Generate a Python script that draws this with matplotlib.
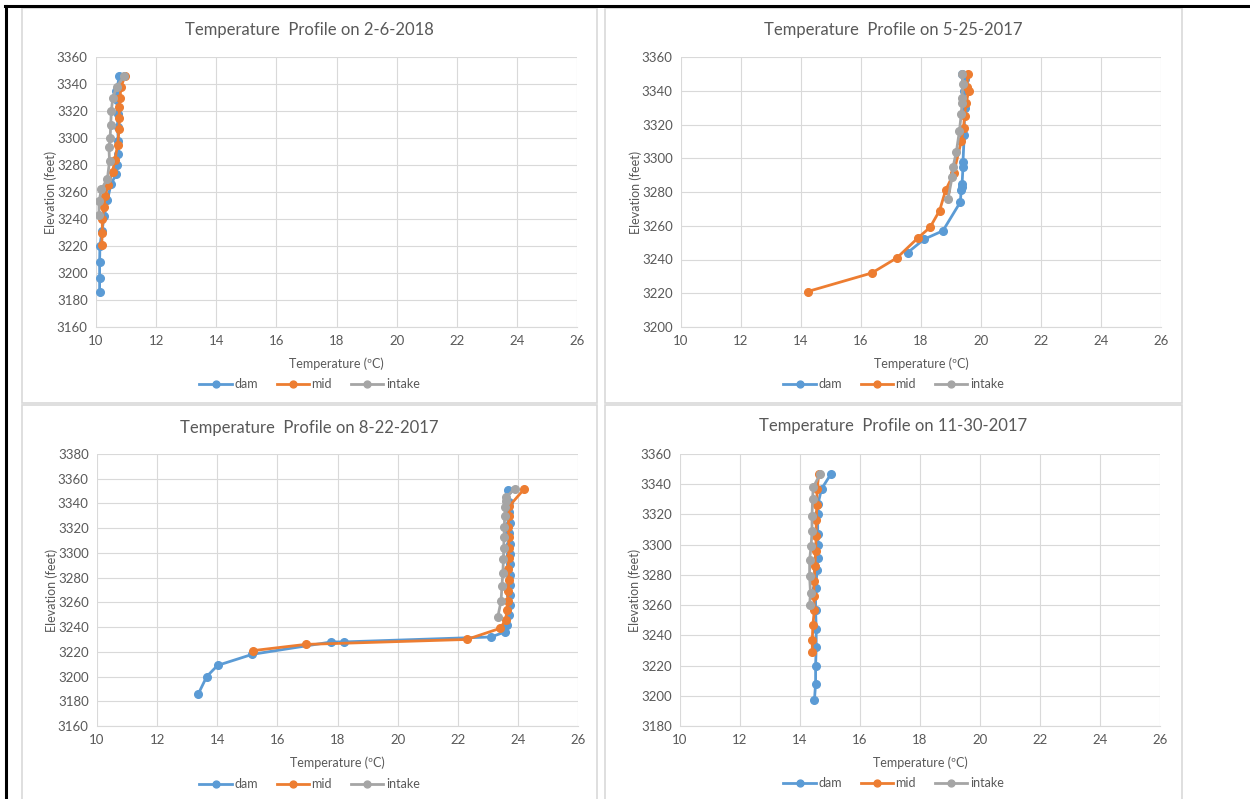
import numpy as np
import matplotlib.pyplot as plt
import matplotlib as mpl
from matplotlib.patches import Rectangle
from matplotlib.lines import Line2D

mpl.rcParams['font.family'] = ['Lato', 'DejaVu Sans']

#======================================== data =============================================
# panel 1: 2-6-2018
p1_dam_t = [10.12, 10.12, 10.12, 10.13, 10.2, 10.27, 10.38, 10.5, 10.67, 10.69, 10.74, 10.74,
            10.72, 10.72, 10.7, 10.68, 10.78]
p1_dam_e = [3186, 3196, 3208, 3220, 3231, 3242, 3254, 3266, 3273, 3280, 3288, 3298,
            3308, 3318, 3328, 3335, 3346]
p1_mid_t = [10.19, 10.21, 10.21, 10.27, 10.3, 10.41, 10.55, 10.63, 10.72, 10.77, 10.77, 10.78,
            10.8, 10.83, 10.97]
p1_mid_e = [3221, 3230, 3240, 3249, 3257, 3265, 3275, 3284, 3295, 3307, 3315, 3323,
            3330, 3338, 3346]
p1_int_t = [10.1, 10.1, 10.18, 10.38, 10.45, 10.43, 10.47, 10.49, 10.51, 10.56, 10.69, 10.94]
p1_int_e = [3243, 3253, 3262, 3270, 3283, 3293, 3300, 3310, 3320, 3330, 3338, 3346]

# panel 2: 5-25-2017
p2_dam_t = [17.55, 18.1, 18.73, 19.31, 19.34, 19.35, 19.37, 19.4, 19.4, 19.44, 19.45, 19.43,
            19.48, 19.37]
p2_dam_e = [3244, 3252, 3257, 3274, 3281, 3283, 3285, 3295, 3298, 3314, 3330, 3340, 3347, 3350]
p2_mid_t = [14.22, 16.36, 17.2, 17.91, 18.3, 18.62, 18.82, 19.09, 19.34, 19.42, 19.45, 19.51,
            19.59, 19.53, 19.56]
p2_mid_e = [3221, 3232, 3241, 3253, 3259, 3269, 3281, 3291, 3310, 3318, 3325, 3333, 3340,
            3342, 3350]
p2_int_t = [18.9, 19.04, 19.07, 19.18, 19.28, 19.34, 19.37, 19.37, 19.39, 19.37]
p2_int_e = [3276, 3289, 3295, 3304, 3316, 3326, 3333, 3336, 3344, 3350]

# panel 3: 8-22-2017
p3_dam_t = [13.37, 13.65, 14.01, 15.17, 17.8, 18.2, 23.11, 23.56, 23.65, 23.72, 23.74, 23.74,
            23.74, 23.75, 23.74, 23.73, 23.74, 23.72, 23.73, 23.72, 23.7, 23.67]
p3_dam_e = [3186, 3200, 3209, 3218, 3228, 3228, 3232, 3236, 3242, 3250, 3258, 3266,
            3274, 3282, 3291, 3299, 3307, 3316, 3324, 3333, 3341, 3351]
p3_mid_t = [15.2, 16.94, 22.3, 23.41, 23.6, 23.63, 23.66, 23.68, 23.7, 23.68, 23.69, 23.7,
            23.7, 23.68, 23.7, 23.72, 24.22]
p3_mid_e = [3221, 3226, 3230, 3239, 3246, 3254, 3261, 3269, 3278, 3287, 3296, 3304,
            3313, 3321, 3330, 3338, 3352]
p3_int_t = [23.33, 23.44, 23.47, 23.5, 23.52, 23.53, 23.54, 23.55, 23.56, 23.58, 23.6, 23.62,
            23.89]
p3_int_e = [3248, 3261, 3273, 3284, 3295, 3304, 3313, 3321, 3330, 3337, 3342, 3345, 3352]

# panel 4: 11-30-2017
p4_dam_t = [14.48, 14.52, 14.52, 14.54, 14.54, 14.52, 14.52, 14.57, 14.59, 14.6, 14.59, 14.59,
            14.6, 14.72, 15.04]
p4_dam_e = [3197, 3208, 3220, 3232, 3244, 3257, 3271, 3283, 3291, 3300, 3307, 3320,
            3327, 3337, 3347]
p4_mid_t = [14.41, 14.41, 14.43, 14.48, 14.46, 14.47, 14.5, 14.52, 14.54, 14.54, 14.56, 14.57,
            14.63]
p4_mid_e = [3229, 3237, 3247, 3257, 3266, 3276, 3286, 3296, 3306, 3316, 3326, 3337, 3347]
p4_int_t = [14.32, 14.35, 14.32, 14.32, 14.37, 14.4, 14.4, 14.42, 14.44, 14.68]
p4_int_e = [3260, 3268, 3279, 3290, 3299, 3309, 3319, 3330, 3338, 3347]

titles = ["Temperature  Profile on 2-6-2018", "Temperature  Profile on 5-25-2017",
          "Temperature  Profile on 8-22-2017", "Temperature  Profile on 11-30-2017"]
ylims = [(3160, 3360), (3200, 3360), (3160, 3380), (3180, 3360)]
series_names = ["dam", "mid", "intake"]
colors = ["#5B9BD5", "#ED7D31", "#A5A5A5"]

panels = [[(p1_dam_t, p1_dam_e), (p1_mid_t, p1_mid_e), (p1_int_t, p1_int_e)],
          [(p2_dam_t, p2_dam_e), (p2_mid_t, p2_mid_e), (p2_int_t, p2_int_e)],
          [(p3_dam_t, p3_dam_e), (p3_mid_t, p3_mid_e), (p3_int_t, p3_int_e)],
          [(p4_dam_t, p4_dam_e), (p4_mid_t, p4_mid_e), (p4_int_t, p4_int_e)]]

#======================================== layout ===========================================
W, H = 1250, 799
def frac(x0, y0, x1, y1):
    # pixel box (top-left origin) -> figure rect
    return [x0/W, 1 - y1/H, (x1 - x0)/W, (y1 - y0)/H]

axes_px = [(96, 57, 577, 327), (681, 57, 1161, 327), (97, 454, 578, 726), (680, 454, 1160, 726)]
boxes_px = [(22, 8, 597, 403), (605, 8, 1182, 403), (22, 405, 597, 800), (605, 405, 1182, 800)]
title_y = [30, 30, 428, 426]
legend_y = [384, 384, 784, 783]

fig = plt.figure(figsize=(12.5, 7.99), dpi=100)

# document table borders
fig.add_artist(Line2D([5/W, 1], [1 - 6/H, 1 - 6/H], color="black", lw=2.2))
fig.add_artist(Line2D([6/W, 6/W], [0, 1 - 6/H], color="black", lw=2.2))
for b in boxes_px:
    r = frac(*b)
    fig.add_artist(Rectangle((r[0], r[1]), r[2], r[3], transform=fig.transFigure,
                             fill=False, ec="#d9d9d9", lw=1.2))

grey_txt = "#595959"
for i in range(4):
    ax = fig.add_axes(frac(*axes_px[i]))
    for k in range(3):
        t, e = panels[i][k]
        ax.plot(t, e, color=colors[k], lw=2, marker="o", ms=5.5, label=series_names[k])
    ax.set_xlim(10, 26)
    ax.set_ylim(*ylims[i])
    ax.set_xticks(np.arange(10, 27, 2))
    ax.set_yticks(np.arange(ylims[i][0], ylims[i][1] + 1, 20))
    ax.grid(True, color="#d9d9d9", lw=0.8)
    ax.set_axisbelow(True)
    for s in ["top", "right", "left"]:
        ax.spines[s].set_visible(False)
    ax.spines["bottom"].set_color("#d9d9d9")
    ax.tick_params(axis="both", length=0, labelsize=9.5, labelcolor=grey_txt, pad=6)
    ax.set_xlabel("Temperature (ºC)", fontsize=9, color=grey_txt, labelpad=7)
    ax.set_ylabel("Elevation (feet)", fontsize=9, color=grey_txt, labelpad=0)

    cx = (boxes_px[i][0] + boxes_px[i][2]) / 2 / W
    fig.text(cx, 1 - title_y[i]/H, titles[i], ha="center", va="center",
             fontsize=12, color=grey_txt)
    ax.legend(loc="center", bbox_to_anchor=(cx, 1 - legend_y[i]/H), bbox_transform=fig.transFigure,
              ncol=3, frameon=False, fontsize=9, labelcolor=grey_txt, handlelength=2.6,
              handletextpad=0.2, columnspacing=1.5, markerscale=0.9)

plt.savefig("out.png", dpi=100)
